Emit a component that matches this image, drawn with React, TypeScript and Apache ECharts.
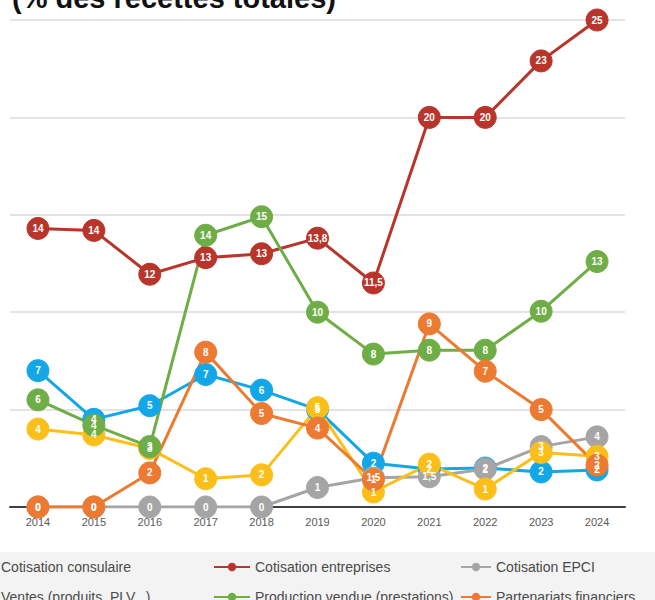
import React, { useEffect, useRef } from "react";
import * as echarts from "echarts";

const years = ["2014", "2015", "2016", "2017", "2018", "2019", "2020", "2021", "2022", "2023", "2024"];

const consulaireValues = [7.0, 4.5, 5.2, 6.8, 6.0, 5.0, 2.25, 1.95, 2.0, 1.8, 1.9];
const consulaireLabels = ["7", "4", "5", "7", "6", "5", "2", "2", "2", "2", "2"];

const entreprisesValues = [14.3, 14.2, 11.95, 12.8, 13.0, 13.8, 11.5, 20, 20, 22.9, 25];
const entreprisesLabels = ["14", "14", "12", "13", "13", "13,8", "11,5", "20", "20", "23", "25"];

const epciValues = [0, 0, 0, 0, 0, 1.0, 1.5, 1.55, 1.95, 3.1, 3.6];
const epciLabels = ["0", "0", "0", "0", "0", "1", "1,5", "1,5", "2", "3", "4"];

const ventesValues = [4.0, 3.7, 3.0, 1.45, 1.65, 5.1, 0.77, 2.2, 0.92, 2.8, 2.6];
const ventesLabels = ["4", "4", "3", "1", "2", "5", "1", "2", "1", "3", "3"];

const productionValues = [5.5, 4.2, 3.1, 13.95, 14.9, 10.0, 7.85, 8.05, 8.05, 10.05, 12.6];
const productionLabels = ["6", "4", "3", "14", "15", "10", "8", "8", "8", "10", "13"];

const partenariatsValues = [0, 0, 1.75, 7.95, 4.8, 4.05, 1.4, 9.4, 6.97, 5.0, 2.15];
const partenariatsLabels = ["0", "0", "2", "8", "5", "4", "1", "9", "7", "5", "2"];

const seriesNames = [
  "Cotisation consulaire",
  "Cotisation entreprises",
  "Cotisation EPCI",
  "Ventes (produits, PLV...)",
  "Production vendue (prestations)",
  "Partenariats financiers",
];
const seriesColors = ["#13a7e8", "#b8352b", "#a5a5a5", "#fcbf1a", "#6fad46", "#ec7a31"];
const seriesValues = [consulaireValues, entreprisesValues, epciValues, ventesValues, productionValues, partenariatsValues];
const seriesLabels = [consulaireLabels, entreprisesLabels, epciLabels, ventesLabels, productionLabels, partenariatsLabels];

const titleText = "(% des recettes totales)";

export default function App() {
  const ref = useRef<HTMLDivElement>(null);
  useEffect(() => {
    if (!ref.current) return;
    const chart = echarts.init(ref.current, undefined, { renderer: "svg" });
    const series = seriesNames.map((name, i) => ({
      name,
      type: "line",
      data: seriesValues[i],
      symbol: "circle",
      symbolSize: 22,
      lineStyle: { width: 3, color: seriesColors[i] },
      itemStyle: { color: seriesColors[i], borderColor: seriesColors[i], borderWidth: 1 },
      label: {
        show: true,
        position: "inside",
        color: "#ffffff",
        fontSize: 10,
        fontWeight: "bold",
        fontFamily: "Liberation Sans",
        formatter: (p: any) => seriesLabels[i][p.dataIndex],
      },
      emphasis: { disabled: true },
    }));
    const legendText = { color: "#4a4a4a", fontSize: 14, fontFamily: "Liberation Sans" };
    const legendPos = [
      { left: -39, top: 560, itemWidth: 34 },
      { left: 213, top: 560, itemWidth: 36 },
      { left: 460, top: 560, itemWidth: 30 },
      { left: -39, top: 590, itemWidth: 34 },
      { left: 213, top: 590, itemWidth: 36 },
      { left: 460, top: 590, itemWidth: 30 },
    ];
    const legendOrder = [0, 1, 2, 3, 4, 5];
    const legends = legendOrder.map((si, k) => ({
      orient: "horizontal",
      left: legendPos[k].left,
      top: legendPos[k].top,
      padding: 0,
      itemWidth: legendPos[k].itemWidth,
      itemHeight: 8,
      textStyle: legendText,
      data: [seriesNames[si]],
    }));
    chart.setOption({
      animation: false,
      backgroundColor: "#ffffff",
      grid: { left: 10, right: 30, top: 20, bottom: 93, containLabel: false },
      graphic: [
        {
          type: "rect",
          shape: { x: 0, y: 552, width: 655, height: 48 },
          style: { fill: "#f3f3f3" },
          z: -10,
        },
        {
          type: "text",
          x: 12,
          y: -17,
          style: {
            text: titleText,
            fill: "#111111",
            font: "bold 29px 'Liberation Sans'",
          },
        },
      ],
      legend: legends,
      xAxis: {
        type: "category",
        data: years,
        boundaryGap: true,
        axisLine: { lineStyle: { color: "#404040", width: 2 } },
        axisTick: { show: false },
        axisLabel: { color: "#595959", fontSize: 11, fontFamily: "Liberation Sans", margin: 9 },
      },
      yAxis: {
        type: "value",
        min: 0,
        max: 25,
        interval: 5,
        axisLabel: { show: false },
        axisLine: { show: false },
        axisTick: { show: false },
        splitLine: { lineStyle: { color: "#dadada", width: 1.5 } },
      },
      series,
    });
    return () => chart.dispose();
  }, []);
  return (
    <div
      ref={ref}
      style={{ position: "absolute", left: 0, top: 0, width: 655, height: 600, background: "#fff" }}
    />
  );
}
